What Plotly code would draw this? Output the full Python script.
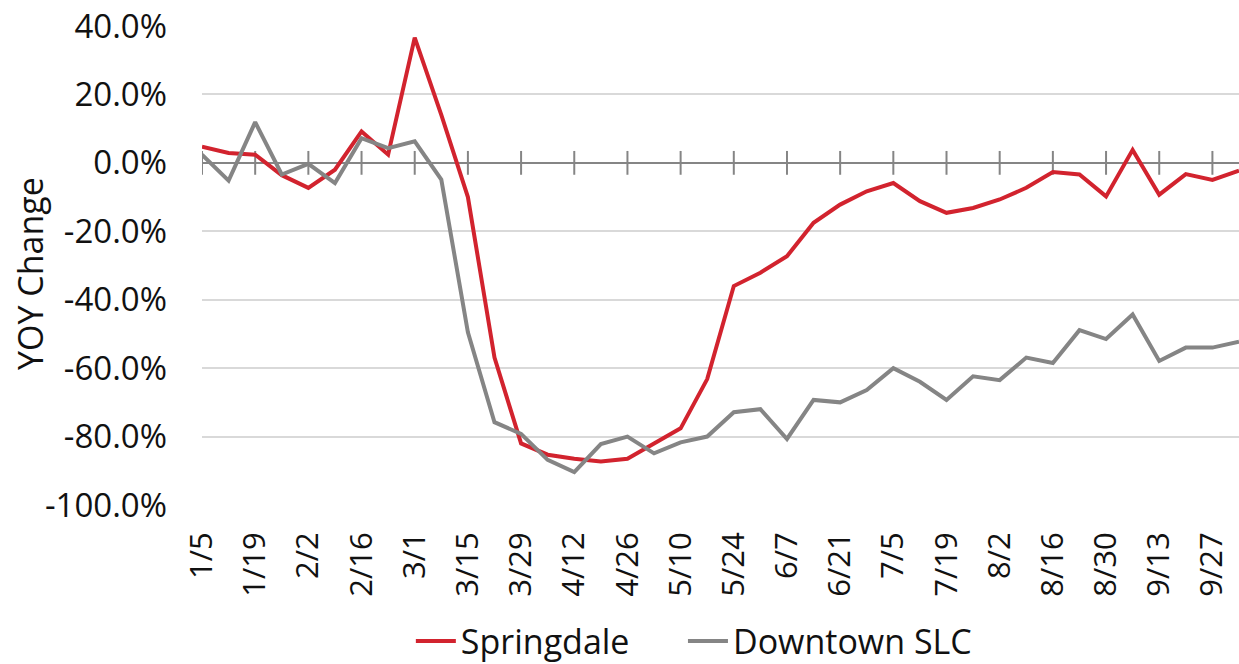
import plotly.graph_objects as go

weeks = ["1/5", "1/12", "1/19", "1/26", "2/2", "2/9", "2/16", "2/23", "3/1", "3/8",
         "3/15", "3/22", "3/29", "4/5", "4/12", "4/19", "4/26", "5/3", "5/10", "5/17",
         "5/24", "5/31", "6/7", "6/14", "6/21", "6/28", "7/5", "7/12", "7/19", "7/26",
         "8/2", "8/9", "8/16", "8/23", "8/30", "9/6", "9/13", "9/20", "9/27", "10/4"]

springdale = [4.7, 2.9, 2.4, -3.6, -7.3, -2.0, 9.2, 2.4, 36.6, 14.0,
              -10.0, -56.9, -82.0, -85.3, -86.5, -87.3, -86.5, -82.0, -77.6, -63.2,
              -36.0, -32.1, -27.3, -17.5, -12.2, -8.3, -5.9, -11.2, -14.6, -13.2,
              -10.7, -7.3, -2.7, -3.4, -9.8, 3.8, -9.3, -3.3, -5.0, -2.3]

downtown_slc = [2.4, -5.2, 11.9, -3.4, -0.3, -5.9, 7.2, 4.3, 6.3, -4.9,
                -49.5, -75.8, -79.2, -86.8, -90.4, -82.2, -80.0, -84.9, -81.7, -80.0,
                -72.9, -72.0, -80.7, -69.3, -70.0, -66.4, -60.0, -64.0, -69.3, -62.4,
                -63.5, -56.9, -58.5, -48.9, -51.5, -44.3, -57.9, -54.0, -54.0, -52.3]

tick_labels = ["1/5", "1/19", "2/2", "2/16", "3/1", "3/15", "3/29", "4/12", "4/26", "5/10",
               "5/24", "6/7", "6/21", "7/5", "7/19", "8/2", "8/16", "8/30", "9/13", "9/27"]

y_tick_values = [40, 20, 0, -20, -40, -60, -80, -100]
y_tick_text = ["40.0%", "20.0%", "0.0%", "-20.0%", "-40.0%", "-60.0%", "-80.0%", "-100.0%"]

FONT = "Open Sans"
TXT = "#111111"
RED = "#D2232E"
GRAY = "#858585"

fig = go.Figure()

# tick marks crossing the zero line
fig.add_trace(go.Scatter(
    x=tick_labels, y=[0] * len(tick_labels), mode="markers",
    marker=dict(symbol="line-ns", size=17, line=dict(color=GRAY, width=2)),
    showlegend=False, hoverinfo="skip"))

fig.add_trace(go.Scatter(
    x=weeks, y=springdale, mode="lines", name="Springdale",
    line=dict(color=RED, width=4), legend="legend"))
fig.add_trace(go.Scatter(
    x=weeks, y=downtown_slc, mode="lines", name="Downtown SLC",
    line=dict(color=GRAY, width=4), legend="legend2"))

legend_common = dict(orientation="h", xref="paper", xanchor="left",
                     yref="container", y=0.034, yanchor="middle",
                     font=dict(family=FONT, size=34, color=TXT),
                     itemwidth=40, bgcolor="rgba(0,0,0,0)")

fig.update_layout(
    width=1239, height=664,
    margin=dict(l=202, r=0, t=26, b=159),
    paper_bgcolor="white", plot_bgcolor="white",
    font=dict(family=FONT, size=33, color=TXT),
    showlegend=True,
    legend=dict(x=0.2014, **legend_common),
    legend2=dict(x=0.4638, **legend_common),
    xaxis=dict(type="category", categoryorder="array", categoryarray=weeks,
               range=[0, 39], tickmode="array", tickvals=tick_labels, ticktext=tick_labels,
               tickangle=-90, showgrid=False, zeroline=False, showline=False,
               ticks="", ticklabelstandoff=20,
               tickfont=dict(family=FONT, size=31, color=TXT)),
    yaxis=dict(range=[-100, 40], tickmode="array", tickvals=y_tick_values, ticktext=y_tick_text,
               showgrid=True, gridcolor="#D9D9D9", gridwidth=2,
               zeroline=True, zerolinecolor=GRAY, zerolinewidth=2,
               showline=False, ticks="", ticklabelstandoff=34,
               tickfont=dict(family=FONT, size=33, color=TXT)),
    annotations=[dict(text="YOY Change", xref="paper", yref="paper",
                      x=-0.166, y=0.484, xanchor="center", yanchor="middle",
                      textangle=-90, showarrow=False,
                      font=dict(family=FONT, size=34, color=TXT))],
)

fig.write_html("out.html",
               config={"displayModeBar": False},
               post_script="document.body.style.margin='0';document.body.style.overflow='hidden';")
